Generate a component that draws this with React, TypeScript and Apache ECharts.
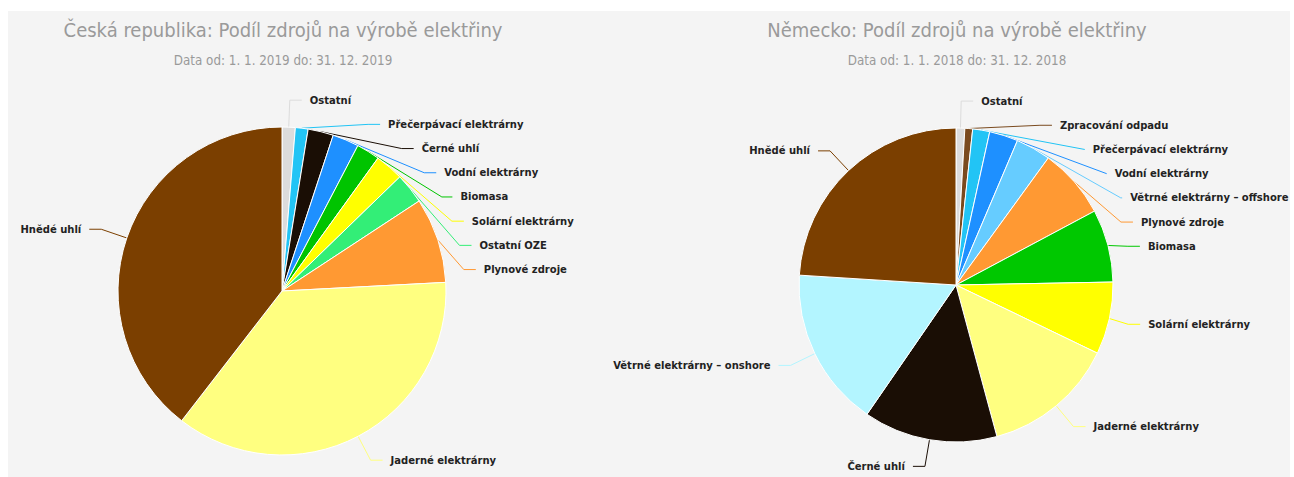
import React, { useEffect, useRef } from "react";
import * as echarts from "echarts";

const czTitle = "Česká republika: Podíl zdrojů na výrobě elektřiny";
const czSubtitle = "Data od: 1. 1. 2019 do: 31. 12. 2019";
const czCategories = [
  "Ostatní",
  "Přečerpávací elektrárny",
  "Černé uhlí",
  "Vodní elektrárny",
  "Biomasa",
  "Solární elektrárny",
  "Ostatní OZE",
  "Plynové zdroje",
  "Jaderné elektrárny",
  "Hnědé uhlí",
];
const czValues = [1.3, 1.25, 2.5, 2.6, 2.3, 2.8, 3.0, 8.4, 36.3, 39.5];
const czColors = [
  "#dcdcdc",
  "#22c4f5",
  "#1a0e05",
  "#1e90ff",
  "#00c400",
  "#ffff00",
  "#33ee77",
  "#ff9933",
  "#ffff80",
  "#7b3f00",
];

const deTitle = "Německo: Podíl zdrojů na výrobě elektřiny";
const deSubtitle = "Data od: 1. 1. 2018 do: 31. 12. 2018";
const deCategories = [
  "Ostatní",
  "Zpracování odpadu",
  "Přečerpávací elektrárny",
  "Vodní elektrárny",
  "Větrné elektrárny – offshore",
  "Plynové zdroje",
  "Biomasa",
  "Solární elektrárny",
  "Jaderné elektrárny",
  "Černé uhlí",
  "Větrné elektrárny – onshore",
  "Hnědé uhlí",
];
const deValues = [0.9, 0.8, 1.75, 2.95, 3.6, 7.2, 7.5, 7.45, 13.65, 13.8, 16.4, 24.0];
const deColors = [
  "#dcdcdc",
  "#7a4a1e",
  "#22c4f5",
  "#1e90ff",
  "#66ccff",
  "#ff9933",
  "#00c800",
  "#ffff00",
  "#ffff80",
  "#1a0e05",
  "#b3f5ff",
  "#7b3f00",
];

const titleFont = "'Liberation Sans Narrow', 'DejaVu Sans Condensed', sans-serif";
const labelFont = "'DejaVu Sans', Verdana, sans-serif";

function buildData(cats: string[], vals: number[], cols: string[]) {
  return cats.map((name, i) => ({
    name,
    value: vals[i],
    itemStyle: { color: cols[i] },
  }));
}

function pieSeries(data: any[], box: any, center: number[], radius: number) {
  return {
    type: "pie",
    ...box,
    center,
    radius,
    startAngle: 90,
    clockwise: true,
    avoidLabelOverlap: true,
    data,
    itemStyle: { borderColor: "#ffffff", borderWidth: 1 },
    label: {
      show: true,
      formatter: "{b}",
      color: "#222222",
      fontFamily: labelFont,
      fontWeight: "bold",
      fontSize: 10,
      lineHeight: 22.2,
      distanceToLabelLine: 8,
      overflow: "none",
    },
    labelLine: { show: true, length: 27, length2: 12, lineStyle: { width: 1 } },
    emphasis: { disabled: true },
  };
}

export default function App() {
  const ref = useRef<HTMLDivElement>(null);
  useEffect(() => {
    if (!ref.current) return;
    const chart = echarts.init(ref.current, undefined, { renderer: "svg" });
    const titleStyle = { color: "#9a9a9a", fontSize: 20, fontWeight: "normal", fontFamily: titleFont };
    const subStyle = { color: "#9a9a9a", fontSize: 13.3, fontFamily: titleFont };
    chart.setOption({
      animation: false,
      backgroundColor: "#ffffff",
      title: [
        {
          text: czTitle,
          subtext: czSubtitle,
          left: 278,
          top: 15,
          textAlign: "center",
          itemGap: 14,
          textStyle: titleStyle,
          subtextStyle: subStyle,
        },
        {
          text: deTitle,
          subtext: deSubtitle,
          left: 952,
          top: 15,
          textAlign: "center",
          itemGap: 14,
          textStyle: titleStyle,
          subtextStyle: subStyle,
        },
      ],
      graphic: [
        {
          type: "rect",
          silent: true,
          z: -10,
          shape: { x: 8, y: 11, width: 1282, height: 466 },
          style: { fill: "#f4f4f4" },
        },
      ],
      series: [
        pieSeries(
          buildData(czCategories, czValues, czColors),
          { left: 0, top: 88, width: 647, height: 400 },
          [282, 203],
          164
        ),
        pieSeries(
          buildData(deCategories, deValues, deColors),
          { left: 647, top: 88, width: 700, height: 400 },
          [309, 197],
          157
        ),
      ],
    });
    return () => chart.dispose();
  }, []);
  return (
    <div
      ref={ref}
      style={{ position: "fixed", left: 0, top: 0, width: 1294, height: 477 }}
    />
  );
}
